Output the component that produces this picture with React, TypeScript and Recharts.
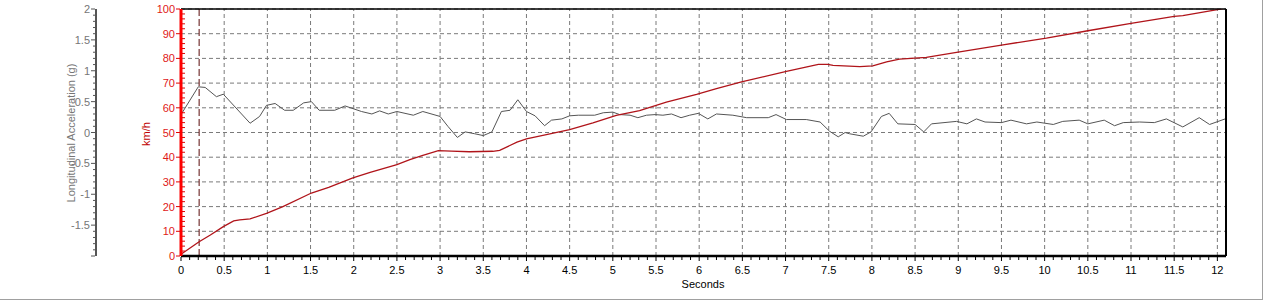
import React from 'react';
import { ComposedChart, Line, XAxis, YAxis, ReferenceLine } from 'recharts';

const accelTime = [0, 0.2, 0.28, 0.41, 0.49, 0.8, 0.91, 0.99, 1.09, 1.2, 1.3, 1.42, 1.51, 1.6, 1.78, 1.9, 2.09, 2.21, 2.3, 2.4, 2.5, 2.69, 2.8, 3.0, 3.09, 3.2, 3.29, 3.4, 3.5, 3.6, 3.71, 3.81, 3.9, 4.0, 4.1, 4.21, 4.29, 4.41, 4.5, 4.6, 4.79, 4.89, 5.0, 5.08, 5.2, 5.29, 5.39, 5.49, 5.58, 5.68, 5.79, 5.89, 5.99, 6.1, 6.2, 6.39, 6.55, 6.8, 6.89, 7.01, 7.24, 7.4, 7.51, 7.61, 7.69, 7.74, 7.9, 7.99, 8.11, 8.2, 8.3, 8.5, 8.6, 8.69, 8.98, 9.1, 9.21, 9.31, 9.5, 9.61, 9.79, 9.91, 10.1, 10.21, 10.4, 10.5, 10.69, 10.81, 10.91, 11.1, 11.27, 11.41, 11.6, 11.79, 11.91, 12.09];
const accelG = [0.29, 0.74, 0.73, 0.58, 0.62, 0.15, 0.26, 0.44, 0.47, 0.36, 0.36, 0.48, 0.5, 0.36, 0.36, 0.43, 0.34, 0.3, 0.35, 0.3, 0.34, 0.28, 0.34, 0.26, 0.1, -0.08, 0.01, -0.02, -0.05, 0.01, 0.34, 0.36, 0.53, 0.34, 0.27, 0.11, 0.2, 0.22, 0.27, 0.28, 0.28, 0.32, 0.33, 0.29, 0.28, 0.24, 0.28, 0.29, 0.28, 0.3, 0.24, 0.28, 0.31, 0.22, 0.3, 0.28, 0.24, 0.24, 0.29, 0.21, 0.21, 0.17, 0.02, -0.07, 0.0, -0.02, -0.06, 0.01, 0.26, 0.31, 0.14, 0.13, 0.01, 0.14, 0.18, 0.14, 0.22, 0.17, 0.16, 0.2, 0.14, 0.17, 0.13, 0.18, 0.2, 0.14, 0.2, 0.11, 0.16, 0.17, 0.16, 0.22, 0.09, 0.24, 0.13, 0.22];

const speedTime = [0, 0.21, 0.34, 0.49, 0.61, 0.68, 0.8, 0.99, 1.18, 1.51, 1.71, 1.99, 2.19, 2.5, 2.65, 2.8, 2.98, 3.13, 3.34, 3.61, 3.69, 3.89, 4.0, 4.19, 4.5, 4.77, 5.04, 5.31, 5.62, 5.97, 6.2, 6.49, 7.01, 7.38, 7.49, 7.55, 7.86, 8.01, 8.17, 8.32, 8.63, 8.98, 9.5, 10.02, 10.5, 11.0, 11.5, 11.6, 12.09];
const speedKmh = [0.7, 5.8, 8.5, 11.9, 14.2, 14.6, 15.0, 17.3, 20.0, 25.5, 27.8, 31.6, 33.9, 37.0, 39.0, 40.7, 42.7, 42.5, 42.2, 42.4, 42.8, 46.1, 47.4, 48.8, 51.2, 53.9, 56.9, 58.9, 62.3, 65.4, 67.8, 70.5, 74.7, 77.6, 77.6, 77.2, 76.7, 77.0, 78.6, 79.7, 80.4, 82.4, 85.4, 88.2, 91.2, 94.2, 97.0, 97.3, 100.3];

const timeMajorTicks = [0, 0.5, 1, 1.5, 2, 2.5, 3, 3.5, 4, 4.5, 5, 5.5, 6, 6.5, 7, 7.5, 8, 8.5, 9, 9.5, 10, 10.5, 11, 11.5, 12];
const kmhMajorTicks = [0, 10, 20, 30, 40, 50, 60, 70, 80, 90, 100];
const gLabelTicks = [-1.5, -1, -0.5, 0, 0.5, 1, 1.5, 2];
const markerTime = 0.21;

const timeAllTicks = Array.from({ length: 121 }, (_, i) => i / 10);
const kmhAllTicks = Array.from({ length: 51 }, (_, i) => i * 2);
const gAllTicks = Array.from({ length: 41 }, (_, i) => (i - 20) / 10);

const accelData = accelTime.map((t, i) => ({ t, g: accelG[i] }));
const speedData = speedTime.map((t, i) => ({ t, kmh: speedKmh[i] }));

const FONT = '"Liberation Sans", Arial, sans-serif';
const isMult = (v: number, step: number) => Math.abs(v / step - Math.round(v / step)) < 1e-6;

const KMH = 'a_kmh';
const GAX = 'b_g';

const TimeTick = (props: any) => {
  const { x, y, payload } = props;
  const v = payload.value;
  const major = timeMajorTicks.some((m) => Math.abs(m - v) < 1e-6);
  return (
    <g>
      <line x1={x} x2={x} y1={y + 1} y2={y + (major ? 5 : 4)} stroke="#000" strokeWidth={1} />
      {major && (
        <text x={x} y={y + 18} textAnchor="middle" fontSize={11} fill="#000" fontFamily={FONT}>
          {String(v)}
        </text>
      )}
    </g>
  );
};

const KmhTick = (props: any) => {
  const { x, y, payload } = props;
  const v = payload.value;
  const major = kmhMajorTicks.some((m) => Math.abs(m - v) < 1e-6);
  return (
    <g>
      {major ? (
        <line x1={x - 5} x2={x - 1} y1={y} y2={y} stroke="#e00000" strokeWidth={1} />
      ) : (
        <line x1={x + 1} x2={x + 4} y1={y} y2={y} stroke="#e00000" strokeWidth={1} />
      )}
      {major && (
        <text x={x - 6} y={y + 4} textAnchor="end" fontSize={11} fill="#e01818" fontFamily={FONT}>
          {String(v)}
        </text>
      )}
    </g>
  );
};

const GTick = (props: any) => {
  const { x, y, payload } = props;
  const v = payload.value;
  const major = isMult(v, 0.5);
  const labeled = gLabelTicks.some((m) => Math.abs(m - v) < 1e-6);
  return (
    <g>
      <line x1={x - (major ? 5 : 3)} x2={x - 1} y1={y} y2={y} stroke="#555" strokeWidth={1} />
      {labeled && (
        <text x={x - 6} y={y + 4} textAnchor="end" fontSize={11} fill="#767676" fontFamily={FONT}>
          {String(v)}
        </text>
      )}
    </g>
  );
};

const labelBase: React.CSSProperties = {
  position: 'absolute',
  fontFamily: FONT,
  fontSize: 11,
  whiteSpace: 'nowrap',
  lineHeight: '13px',
};

export default function App() {
  return (
    <div
      style={{
        position: 'absolute',
        left: 0,
        top: 0,
        width: 1262,
        height: 299,
        borderRight: '1px solid #a0a0a0',
        borderBottom: '1px solid #a0a0a0',
        background: '#fff',
      }}
    >
      <ComposedChart width={1262} height={299} margin={{ top: 9, right: 36, bottom: 13, left: 0 }}>
        <XAxis
          xAxisId="t"
          dataKey="t"
          type="number"
          domain={[0, 12.1]}
          ticks={timeAllTicks}
          interval={0}
          height={30}
          tickSize={0}
          tickMargin={0}
          tickLine={false}
          tick={<TimeTick />}
          axisLine={{ stroke: '#000', strokeWidth: 2.5 }}
          allowDataOverflow
        />
        <YAxis
          yAxisId={KMH}
          type="number"
          domain={[0, 100]}
          ticks={kmhAllTicks}
          interval={0}
          width={85}
          tickSize={0}
          tickMargin={0}
          tickLine={false}
          tick={<KmhTick />}
          axisLine={{ stroke: '#ff0000', strokeWidth: 3 }}
          allowDataOverflow
        />
        <YAxis
          yAxisId={GAX}
          type="number"
          domain={[-2, 2]}
          ticks={gAllTicks}
          interval={0}
          width={96}
          tickSize={0}
          tickMargin={0}
          tickLine={false}
          tick={<GTick />}
          axisLine={{ stroke: '#555', strokeWidth: 2 }}
          allowDataOverflow
        />
        {timeMajorTicks
          .filter((t) => t > 0)
          .map((t) => (
            <ReferenceLine key={'v' + t} xAxisId="t" yAxisId={KMH} x={t} stroke="#7a7a7a" strokeDasharray="4 3" />
          ))}
        {kmhMajorTicks
          .filter((v) => v > 0)
          .map((v) => (
            <ReferenceLine key={'h' + v} xAxisId="t" yAxisId={KMH} y={v} stroke="#7a7a7a" strokeDasharray="4 3" />
          ))}
        <ReferenceLine xAxisId="t" yAxisId={KMH} x={markerTime} stroke="#5a0a0a" strokeDasharray="7 3" />
        <Line
          xAxisId="t"
          yAxisId={GAX}
          data={accelData}
          dataKey="g"
          type="linear"
          stroke="#555"
          strokeWidth={1}
          dot={false}
          activeDot={false}
          isAnimationActive={false}
        />
        <Line
          xAxisId="t"
          yAxisId={KMH}
          data={speedData}
          dataKey="kmh"
          type="linear"
          stroke="#b0141a"
          strokeWidth={1.3}
          dot={false}
          activeDot={false}
          isAnimationActive={false}
        />
        <ReferenceLine xAxisId="t" yAxisId={KMH} y={100} stroke="#000" strokeWidth={1.5} />
        <ReferenceLine xAxisId="t" yAxisId={KMH} x={12.1} stroke="#000" strokeWidth={2} />
      </ComposedChart>
      <div style={{ ...labelBase, left: 71, top: 133, color: '#767676', transform: 'translate(-50%, -50%) rotate(-90deg)' }}>
        Longitudinal Acceleration (g)
      </div>
      <div style={{ ...labelBase, left: 146, top: 134, color: '#c00000', transform: 'translate(-50%, -50%) rotate(-90deg)' }}>
        km/h
      </div>
      <div style={{ ...labelBase, left: 703, top: 284, color: '#000', transform: 'translate(-50%, -50%)' }}>
        Seconds
      </div>
    </div>
  );
}
